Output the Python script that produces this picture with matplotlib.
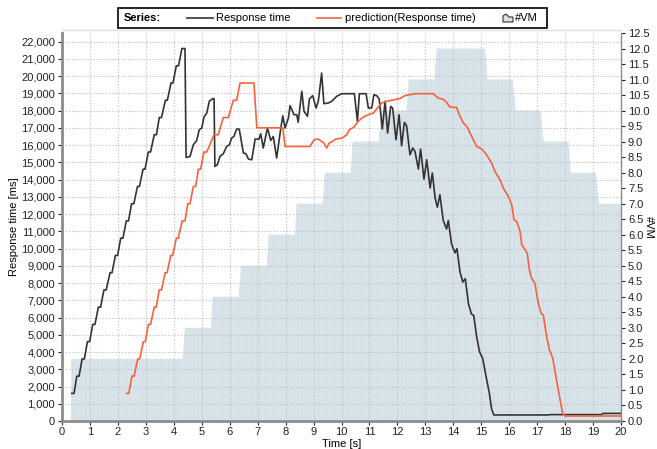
import matplotlib
matplotlib.use("Agg")
import matplotlib.pyplot as plt
from matplotlib.lines import Line2D
from matplotlib.patches import Rectangle, Polygon
from matplotlib.ticker import FuncFormatter

plt.rcParams['font.family'] = ['Liberation Sans', 'DejaVu Sans']
plt.rcParams['font.size'] = 8
plt.rcParams['hatch.linewidth'] = 0.4

# ---------------- data ----------------
rt_time = [0.35, 0.43, 0.53, 0.61, 0.72, 0.80, 0.91, 0.99, 1.10, 1.18, 1.30, 1.38,
           1.50, 1.58, 1.72, 1.79, 1.91, 1.99, 2.10, 2.18, 2.30, 2.38, 2.49, 2.57,
           2.70, 2.77, 2.90, 2.97, 3.09, 3.17, 3.30, 3.38, 3.48, 3.56, 3.70, 3.77,
           3.90, 3.97, 4.09, 4.17, 4.29, 4.40,
           4.44, 4.58, 4.70, 4.82, 4.91, 5.00, 5.08, 5.18, 5.27, 5.39, 5.44, 5.47,
           5.56, 5.65, 5.77, 5.89, 5.99, 6.07, 6.15, 6.25, 6.34, 6.49, 6.58, 6.67,
           6.79, 6.91, 7.05, 7.11, 7.20, 7.35, 7.47, 7.56, 7.68, 7.82, 7.90, 7.98,
           8.10, 8.16, 8.30, 8.40, 8.45, 8.58, 8.66, 8.78, 8.85, 8.97, 9.09, 9.17,
           9.29, 9.37, 9.53, 9.65, 9.83, 10.01, 10.46, 10.57, 10.64, 10.88, 10.96,
           11.08, 11.16, 11.26, 11.35, 11.46, 11.56, 11.65, 11.76, 11.83, 11.95,
           12.06, 12.15, 12.25, 12.33, 12.45, 12.55, 12.63, 12.75, 12.83, 12.95,
           13.05, 13.17, 13.25, 13.35, 13.43, 13.52, 13.64, 13.76, 13.82, 13.94,
           14.06, 14.13, 14.24, 14.34, 14.43, 14.54, 14.65, 14.73, 14.84, 14.94,
           15.05, 15.17, 15.29, 15.37, 15.45, 17.40, 17.45, 19.30, 19.35, 20.0]
rt_value = [1600, 1600, 2600, 2600, 3600, 3600, 4600, 4600, 5600, 5600, 6600, 6600,
            7600, 7600, 8600, 8600, 9600, 9600, 10600, 10600, 11600, 11600, 12600, 12600,
            13600, 13600, 14600, 14600, 15600, 15600, 16600, 16600, 17600, 17600, 18600, 18600,
            19600, 19600, 20600, 20600, 21600, 21600,
            15280, 15340, 16020, 16270, 16890, 16990, 17630, 17860, 18540, 18690, 18690, 14760,
            14860, 15340, 15500, 15920, 16020, 16410, 16500, 16930, 16930, 15540, 15500, 15190,
            15150, 16350, 16350, 16660, 15830, 16990, 16270, 16500, 15250, 16890, 17700, 16990,
            17570, 18290, 17760, 17760, 17320, 19120, 17960, 17670, 18670, 18870, 18150, 18540,
            20180, 18400, 18440, 18540, 18830, 18980, 18980, 17380, 18980, 18980, 18150,
            18150, 18920, 18870, 18670, 16930, 18540, 16700, 18240, 18150, 16310,
            17760, 15960, 17320, 17120, 15440, 15830, 15630, 14610, 15770, 14030,
            15150, 13510, 14380, 12930, 12400, 13120, 11630, 11130, 11630, 10250,
            9750, 10000, 8640, 8060, 8250, 6810, 6200, 6120, 4850, 4000,
            3640, 2600, 1610, 700, 350, 350, 370, 370, 440, 440]

pred_time = [2.31, 2.39, 2.50, 2.58, 2.71, 2.78, 2.91, 2.98, 3.09, 3.17, 3.30, 3.37,
             3.48, 3.56, 3.69, 3.76, 3.89, 3.96, 4.09, 4.16, 4.30, 4.40, 4.50, 4.58,
             4.70, 4.78, 4.88, 4.96, 5.08, 5.18, 5.44, 5.59, 5.77, 5.95, 6.13, 6.25,
             6.37, 6.87, 6.97, 7.90, 7.98, 8.87, 9.02, 9.17, 9.30, 9.37, 9.47, 9.56,
             9.68, 9.80, 10.01, 10.19, 10.28, 10.45, 10.60, 10.78, 10.96, 11.14, 11.26,
             11.44, 11.62, 11.85, 12.09, 12.27, 12.63, 13.28, 13.46, 13.64, 13.76,
             13.88, 14.12, 14.21, 14.36, 14.48, 14.66, 14.84, 15.02, 15.19, 15.37,
             15.49, 15.67, 15.79, 15.97, 16.09, 16.17, 16.27, 16.39, 16.45, 16.57,
             16.65, 16.72, 16.80, 16.92, 17.04, 17.14, 17.22, 17.34, 17.44, 17.56,
             17.67, 17.79, 17.91, 17.99, 20.0]
pred_value = [1600, 1600, 2600, 2600, 3600, 3600, 4600, 4600, 5600, 5600, 6600, 6600,
              7600, 7600, 8600, 8600, 9600, 9600, 10600, 10600, 11600, 11600, 12600, 12600,
              13600, 13600, 14600, 14600, 15600, 15600, 16600, 16600, 17600, 17600, 18600, 18600,
              19600, 19600, 17000, 17000, 15920, 15920, 16310, 16350, 16200, 16120, 15830, 16120,
              16210, 16350, 16400, 16600, 16890, 17050, 17380, 17630, 17760, 17860, 18100,
              18440, 18540, 18620, 18700, 18870, 18980, 18980, 18730, 18650, 18480,
              18210, 18180, 17760, 17280, 17100, 16500, 15920, 15770, 15440, 14960,
              14470, 13990, 13510, 13020, 12540, 11670, 11570, 10990, 10220, 9930,
              9690, 8770, 8280, 7990, 6830, 6250, 6150, 4890, 4120, 3640,
              2570, 1510, 450, 290, 290]

vm_time = [0.32, 0.33, 4.32, 4.40, 5.33, 5.40, 6.33, 6.40, 7.33, 7.40, 8.33, 8.40,
           9.33, 9.40, 10.33, 10.40, 11.33, 11.40, 12.33, 12.40, 13.33, 13.40,
           15.13, 15.23, 16.13, 16.23, 17.13, 17.23, 18.12, 18.20, 19.11, 19.21, 20.0]
vm_value = [0, 2, 2, 3, 3, 4, 4, 5, 5, 6, 6, 7,
            7, 8, 8, 9, 9, 10, 10, 11, 11, 12,
            12, 11, 11, 10, 10, 9, 9, 8, 8, 7, 7]

left_ticks = list(range(0, 22001, 1000))
right_ticks = [i * 0.5 for i in range(26)]
x_ticks = list(range(0, 21))

# ---------------- figure ----------------
W, H = 657, 449
fig = plt.figure(figsize=(W / 100, H / 100), dpi=100)
ax = fig.add_axes([62 / W, 1 - 421 / H, (621 - 62) / W, (421 - 33) / H])
ax2 = ax.twinx()
ax.set_zorder(ax2.get_zorder() + 1)
ax.patch.set_visible(False)

area_color = '#d9e3ea'
ax2.fill_between(vm_time, vm_value, 0, facecolor=area_color, edgecolor='#d2dce4',
                 hatch='||||', lw=0)
ax2.set_ylim(0, 12.5)
ax2.set_yticks(right_ticks)
ax2.yaxis.set_major_formatter(FuncFormatter(lambda v, p: f"{v:.1f}"))

line_black = '#333333'
line_orange = '#f26440'
ax.plot(rt_time, rt_value, color=line_black, lw=1.2, zorder=3)
ax.plot(pred_time, pred_value, color=line_orange, lw=1.2, zorder=3)

ax.set_xlim(0, 20)
ax.set_ylim(0, 22500)
ax.set_xticks(x_ticks)
ax.set_yticks(left_ticks)
ax.yaxis.set_major_formatter(FuncFormatter(lambda v, p: f"{int(v):,}"))
ax.grid(True, color='#c4c4c4', linestyle=(0, (1.2, 1.6)), lw=0.8)
ax.set_axisbelow(True)

for a in (ax, ax2):
    a.spines['top'].set_visible(False)
    a.tick_params(colors='#222222', labelsize=8, length=3, width=0.8)
ax.spines['left'].set_color('#8c8c8c')
ax.spines['left'].set_linewidth(2)
ax.spines['bottom'].set_color('#8c8c8c')
ax.spines['bottom'].set_linewidth(2)
ax.spines['right'].set_visible(False)
ax2.spines['left'].set_visible(False)
ax2.spines['bottom'].set_visible(False)
ax2.spines['right'].set_color('#8c8c8c')
ax2.spines['right'].set_linewidth(1)
ax.tick_params(axis='x', pad=1.5)
ax.tick_params(axis='y', pad=2)
ax2.tick_params(axis='y', pad=2)

ax.set_xlabel('Time [s]', fontsize=8, labelpad=1)
ax.set_ylabel('Response time [ms]', fontsize=8, va='center')
ax2.set_ylabel('#VM', fontsize=8, rotation=270, va='center')
ax.yaxis.set_label_coords((14 - 62) / 559, 0.5)
ax2.yaxis.set_label_coords((649 - 62) / 559, 0.5)

# top border line
fig.add_artist(Line2D([62 / W, 621 / W], [1 - 30 / H, 1 - 30 / H], color='#dddddd', lw=1))

# ---------------- legend ----------------
def fx(px):
    return px / W

def fy(py):
    return 1 - py / H

fig.add_artist(Rectangle((fx(118), fy(28)), fx(547) - fx(118), fy(8) - fy(28),
                         fill=False, edgecolor='black', lw=1.2))
ty = fy(18)
fig.text(fx(124), ty, 'Series:', fontweight='bold', va='center', ha='left', fontsize=8)
fig.add_artist(Line2D([fx(187), fx(213)], [ty, ty], color=line_black, lw=1.2))
fig.text(fx(216), ty, 'Response time', va='center', ha='left', fontsize=8)
fig.add_artist(Line2D([fx(317), fx(341)], [ty, ty], color=line_orange, lw=1.2))
fig.text(fx(345), ty, 'prediction(Response time)', va='center', ha='left', fontsize=8)
fig.add_artist(Polygon([(fx(503), fy(22)), (fx(503), fy(16)), (fx(506), fy(14)),
                        (fx(509), fy(17)), (fx(513), fy(17)), (fx(513), fy(22))],
                       closed=True, facecolor=area_color, edgecolor='#333333', lw=0.8))
fig.text(fx(515), ty, '#VM', va='center', ha='left', fontsize=8)

fig.savefig('out.png', dpi=100)
